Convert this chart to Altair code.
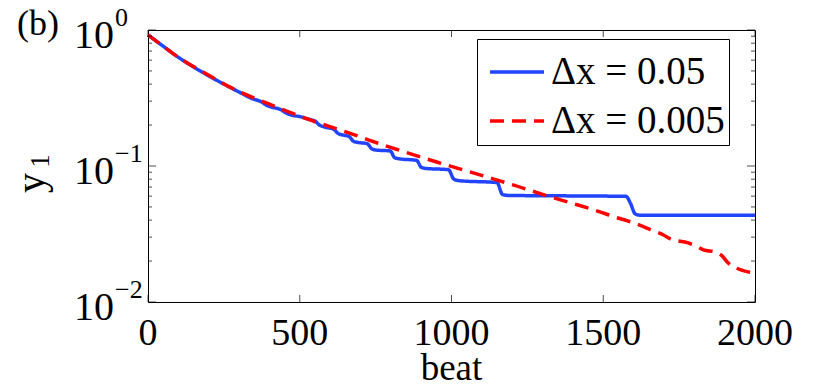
import altair as alt
import pandas as pd

# ---- data ----
blue_beat = [0, 50, 100, 150, 200, 250, 300, 340, 375, 390, 405, 440, 455, 470, 510, 525, 550, 565, 580,
             612, 627, 642, 662, 677, 692, 722, 737, 752, 798, 813, 828, 885, 900, 915, 990, 1008, 1025,
             1150, 1168, 1185, 1575, 1590, 1605, 1620, 2000]
blue_y = [0.92, 0.76, 0.63, 0.535, 0.46, 0.40, 0.35, 0.315, 0.295, 0.28, 0.272, 0.258, 0.245, 0.238, 0.228,
          0.222, 0.214, 0.200, 0.194, 0.186, 0.173, 0.169, 0.165, 0.152, 0.149, 0.146, 0.134, 0.131, 0.129,
          0.115, 0.113, 0.110, 0.098, 0.096, 0.094, 0.080, 0.078, 0.0755, 0.0618, 0.0608, 0.0598, 0.053,
          0.0445, 0.0435, 0.0435]

red_beat = [0, 50, 100, 200, 270, 400, 534, 666, 758, 808, 951, 1105, 1200, 1324, 1400, 1489, 1540, 1580,
            1620, 1650, 1700, 1720, 1780, 1810, 1830, 1870, 1890, 1910, 1940, 1970, 2000]
red_y = [0.92, 0.76, 0.63, 0.465, 0.38, 0.285, 0.218, 0.174, 0.147, 0.135, 0.107, 0.0845, 0.073, 0.0595,
         0.053, 0.046, 0.042, 0.0395, 0.0368, 0.0345, 0.031, 0.0292, 0.0272, 0.0255, 0.0242, 0.0233, 0.022,
         0.0195, 0.0177, 0.0168, 0.0164]

series_names = ["Δx = 0.05", "Δx = 0.005"]
series_colors = ["#2244ff", "#ff0000"]

x_ticks = [0, 500, 1000, 1500, 2000]
x_tick_labels = ["0", "500", "1000", "1500", "2000"]
y_major = [1, 0.1, 0.01]
y_exp = ["0", "−1", "−2"]
y_minor = [k * 10.0 ** e for e in (-2, -1) for k in range(2, 10)]

W, H = 607, 272
FONT = "Liberation Serif"

lines_df = pd.concat([
    pd.DataFrame({"beat": blue_beat, "y": blue_y, "series": series_names[0]}),
    pd.DataFrame({"beat": red_beat, "y": red_y, "series": series_names[1]}),
])

xs = alt.Scale(domain=[0, 2000], nice=False)
ys = alt.Scale(type="log", domain=[0.01, 1], nice=False)

lines = alt.Chart(lines_df).mark_line(strokeWidth=3.5, interpolate="monotone").encode(
    x=alt.X("beat:Q", scale=xs, axis=None),
    y=alt.Y("y:Q", scale=ys, axis=None),
    color=alt.Color("series:N", scale=alt.Scale(domain=series_names, range=series_colors),
                    legend=alt.Legend(title=None, orient="none", legendX=329, legendY=9,
                                      strokeColor="black", fillColor="white", padding=4,
                                      symbolType="stroke", symbolSize=2916, symbolStrokeWidth=3.5,
                                      symbolOffset=7, labelFontSize=39, labelFont=FONT,
                                      labelExpr="datum.label + '\u00a0'",
                                      labelColor="black", labelLimit=0, rowPadding=0, labelOffset=5,
                                      cornerRadius=0)),
    strokeDash=alt.StrokeDash("series:N", scale=alt.Scale(domain=series_names, range=[[1, 0], [14, 8]]),
                              legend=alt.Legend(title=None, orient="none", legendX=329, legendY=9)),
    order=alt.Order("series:N", sort="descending"),
)

xt_df = pd.DataFrame({"beat": x_ticks, "lab": x_tick_labels})
xt_bottom = alt.Chart(xt_df).mark_tick(orient="vertical", size=7, thickness=1, color="black").encode(
    x=alt.X("beat:Q", scale=xs), y=alt.value(H - 3.5))
xt_top = alt.Chart(xt_df).mark_tick(orient="vertical", size=7, thickness=1, color="black").encode(
    x=alt.X("beat:Q", scale=xs), y=alt.value(3.5))
xt_labels = alt.Chart(xt_df).mark_text(fontSize=38, align="center", baseline="alphabetic",
                                       color="black").encode(
    x=alt.X("beat:Q", scale=xs), y=alt.value(H + 43), text="lab:N")
x_title = alt.Chart(pd.DataFrame({"t": ["beat"]})).mark_text(
    fontSize=37, align="center", baseline="alphabetic", color="black").encode(
    text="t:N", x=alt.value(W / 2), y=alt.value(H + 78))

ymaj_df = pd.DataFrame({"y": y_major, "exp": y_exp})
ymin_df = pd.DataFrame({"y": y_minor})
yt_maj_l = alt.Chart(ymaj_df).mark_tick(orient="horizontal", size=8, thickness=1, color="black").encode(
    y=alt.Y("y:Q", scale=ys), x=alt.value(4))
yt_maj_r = alt.Chart(ymaj_df).mark_tick(orient="horizontal", size=8, thickness=1, color="black").encode(
    y=alt.Y("y:Q", scale=ys), x=alt.value(W - 4))
yt_min_l = alt.Chart(ymin_df).mark_tick(orient="horizontal", size=4, thickness=1, color="black").encode(
    y=alt.Y("y:Q", scale=ys), x=alt.value(2))
yt_min_r = alt.Chart(ymin_df).mark_tick(orient="horizontal", size=4, thickness=1, color="black").encode(
    y=alt.Y("y:Q", scale=ys), x=alt.value(W - 2))

ylab_ten = alt.Chart(ymaj_df).mark_text(text="10", fontSize=40, align="right",
                                        baseline="middle", dy=6, color="black").encode(
    y=alt.Y("y:Q", scale=ys), x=alt.value(-34))
ylab_exp = alt.Chart(ymaj_df).mark_text(fontSize=26, align="left", baseline="middle",
                                        dy=-12, color="black").encode(
    y=alt.Y("y:Q", scale=ys), x=alt.value(-33), text="exp:N")

ytitle_y = alt.Chart(pd.DataFrame({"t": ["y"]})).mark_text(
    fontSize=40, angle=270, align="center", baseline="middle", color="black").encode(
    text="t:N", x=alt.value(-116), y=alt.value(153))
ytitle_1 = alt.Chart(pd.DataFrame({"t": ["1"]})).mark_text(
    fontSize=27, angle=270, align="center", baseline="middle", color="black").encode(
    text="t:N", x=alt.value(-107), y=alt.value(131))
panel = alt.Chart(pd.DataFrame({"t": ["(b)"]})).mark_text(
    fontSize=36, align="left", baseline="alphabetic", color="black").encode(
    text="t:N", x=alt.value(-131), y=alt.value(5))

chart = alt.layer(
    lines, xt_bottom, xt_top, xt_labels, x_title, yt_maj_l, yt_maj_r, yt_min_l, yt_min_r,
    ylab_ten, ylab_exp, ytitle_y, ytitle_1, panel,
).properties(
    width=W, height=H,
    autosize=alt.AutoSizeParams(type="none"),
    padding={"left": 140, "top": 22, "right": 60, "bottom": 80},
).configure(
    font=FONT,
).configure_legend(
    labelFont=FONT,
).configure_text(
    font=FONT,
).configure_view(stroke="black", strokeWidth=1)

chart.save("out.html", embed_options={"renderer": "svg", "actions": False})
